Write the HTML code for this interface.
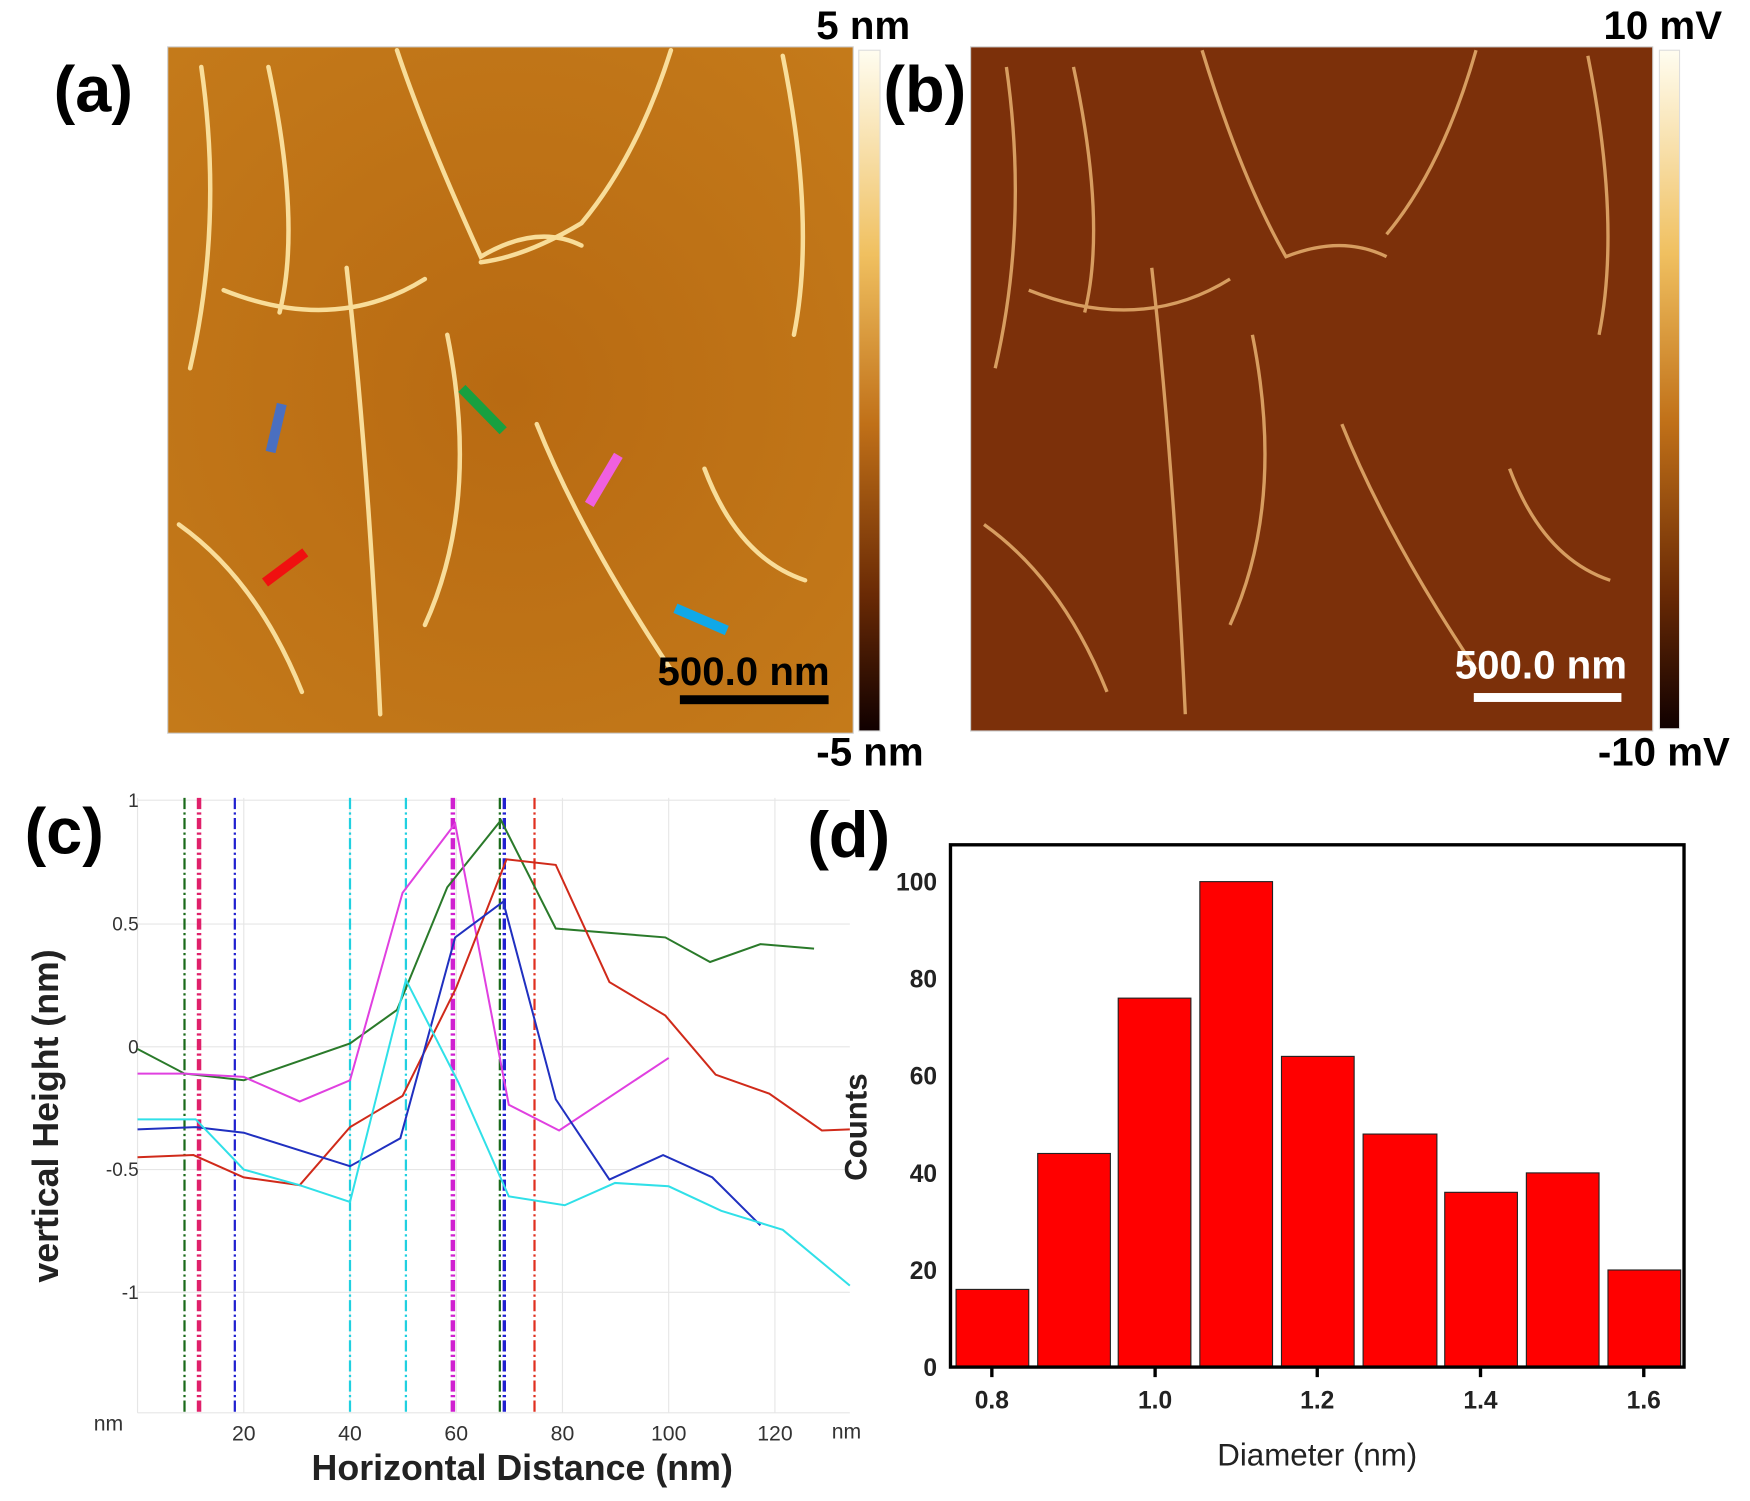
<!DOCTYPE html>
<html><head><meta charset="utf-8"><style>html,body{margin:0;padding:0;background:#fff}svg{display:block}</style></head>
<body>
<svg width="1750" height="1501" viewBox="0 0 1565 1345" preserveAspectRatio="none" xmlns="http://www.w3.org/2000/svg" font-family="Liberation Sans, sans-serif">
<defs>
<linearGradient id="cba" x1="0" y1="0" x2="0" y2="1"><stop offset="0" stop-color="#fffdf0"/><stop offset="0.3" stop-color="#f0c060"/><stop offset="0.55" stop-color="#c07018"/><stop offset="0.8" stop-color="#6a2a05"/><stop offset="1" stop-color="#100000"/></linearGradient>
<radialGradient id="ga" cx="0.5" cy="0.5" r="0.7"><stop offset="0" stop-color="#b86a12"/><stop offset="1" stop-color="#c47a1a"/></radialGradient>
</defs>
<!-- panel a -->
<rect x="150" y="42" width="613" height="615" fill="url(#ga)" stroke="#ccc"/>
<g fill="none" stroke="#ffe9a8" stroke-width="4" stroke-linecap="round" opacity="0.9">
<path d="M355 45 Q380 120 430 230 Q480 200 520 220"/>
<path d="M600 45 Q570 140 520 200 Q470 230 430 235"/>
<path d="M180 60 Q200 200 170 330"/>
<path d="M240 60 Q270 200 250 280"/>
<path d="M310 240 Q330 420 340 640"/>
<path d="M700 50 Q730 200 710 300"/>
<path d="M160 470 Q230 520 270 620"/>
<path d="M480 380 Q520 480 600 600"/>
<path d="M200 260 Q300 300 380 250"/>
<path d="M630 420 Q660 500 720 520"/>
<path d="M400 300 Q430 450 380 560"/>
</g>
<rect x="768" y="45" width="19" height="610" fill="url(#cba)" stroke="#ddd"/>
<g stroke-width="9"><line x1="252" y1="362" x2="242" y2="405" stroke="#4a6fc0"/><line x1="413" y1="348" x2="450" y2="386" stroke="#18a040"/><line x1="553" y1="408" x2="527" y2="452" stroke="#f060e0"/><line x1="273" y1="495" x2="237" y2="522" stroke="#f01010"/><line x1="604" y1="545" x2="650" y2="565" stroke="#10a8e8"/></g>
<rect x="608" y="623" width="133" height="8" fill="#000"/>
<text x="665" y="614" font-size="36" font-weight="bold" text-anchor="middle">500.0 nm</text>
<text x="772" y="35" font-size="36" font-weight="bold" text-anchor="middle">5 nm</text>
<text x="778" y="686" font-size="36" font-weight="bold" text-anchor="middle">-5 nm</text>
<text x="48" y="100" font-size="58" font-weight="bold">(a)</text>
<!-- panel b -->
<rect x="868" y="42" width="610" height="613" fill="#7c300a" stroke="#ccc"/>
<g fill="none" stroke="#e8b070" stroke-width="3" opacity="0.85">
<path d="M1075 45 Q1110 160 1150 230 Q1200 210 1240 230"/>
<path d="M1320 45 Q1290 150 1240 210"/>
<path d="M900 60 Q920 200 890 330"/>
<path d="M960 60 Q990 200 970 280"/>
<path d="M1030 240 Q1050 420 1060 640"/>
<path d="M1420 50 Q1450 200 1430 300"/>
<path d="M880 470 Q950 520 990 620"/>
<path d="M1200 380 Q1240 480 1320 600"/>
<path d="M920 260 Q1020 300 1100 250"/>
<path d="M1350 420 Q1380 500 1440 520"/>
<path d="M1120 300 Q1150 450 1100 560"/>
</g>
<rect x="1484" y="45" width="18" height="608" fill="url(#cba)" stroke="#ddd"/>
<rect x="1318" y="621" width="132" height="8" fill="#fff"/>
<text x="1378" y="608" font-size="36" font-weight="bold" text-anchor="middle" fill="#fff">500.0 nm</text>
<text x="1487" y="35" font-size="36" font-weight="bold" text-anchor="middle">10 mV</text>
<text x="1488" y="686" font-size="36" font-weight="bold" text-anchor="middle">-10 mV</text>
<text x="790" y="100" font-size="58" font-weight="bold">(b)</text>
<!-- panel c -->
<g stroke="#e6e6e6" stroke-width="1">
<line x1="123" y1="717" x2="760" y2="717"/><line x1="123" y1="828" x2="760" y2="828"/><line x1="123" y1="938" x2="760" y2="938"/><line x1="123" y1="1048" x2="760" y2="1048"/><line x1="123" y1="1158" x2="760" y2="1158"/><line x1="123" y1="1266" x2="760" y2="1266"/>
<line x1="123" y1="715" x2="123" y2="1266"/><line x1="218" y1="715" x2="218" y2="1266"/><line x1="313" y1="715" x2="313" y2="1266"/><line x1="408" y1="715" x2="408" y2="1266"/><line x1="503" y1="715" x2="503" y2="1266"/><line x1="598" y1="715" x2="598" y2="1266"/><line x1="693" y1="715" x2="693" y2="1266"/>
</g>
<g font-size="17" fill="#333" text-anchor="end"><text x="124" y="723">1</text><text x="124" y="834">0.5</text><text x="124" y="944">0</text><text x="124" y="1054">-0.5</text><text x="124" y="1164">-1</text></g>
<g font-size="19" fill="#333" text-anchor="middle"><text x="97" y="1282">nm</text><text x="218" y="1291">20</text><text x="313" y="1291">40</text><text x="408" y="1291">60</text><text x="503" y="1291">80</text><text x="598" y="1291">100</text><text x="693" y="1291">120</text><text x="757" y="1289">nm</text></g>
<g stroke-width="2" stroke-dasharray="10,3,2,3" fill="none">
<line x1="165" y1="715" x2="165" y2="1266" stroke="#1a6a1a"/><line x1="447" y1="715" x2="447" y2="1266" stroke="#1a6a1a"/>
<line x1="178" y1="715" x2="178" y2="1266" stroke="#e0206a" stroke-width="4"/><line x1="478" y1="715" x2="478" y2="1266" stroke="#e03020"/>
<line x1="210" y1="715" x2="210" y2="1266" stroke="#2020d0"/><line x1="451" y1="715" x2="451" y2="1266" stroke="#2020d0" stroke-width="3"/>
<line x1="313" y1="715" x2="313" y2="1266" stroke="#20d0e0"/><line x1="363" y1="715" x2="363" y2="1266" stroke="#20d0e0"/>
<line x1="405" y1="715" x2="405" y2="1266" stroke="#d020d0" stroke-width="4"/>
</g>
<g fill="none" stroke-width="1.8">
<polyline stroke="#2a7a2a" points="123,940 165,962 218,968 313,935 355,905 400,795 448,735 497,832 595,840 635,862 680,846 728,850"/>
<polyline stroke="#e040e0" points="123,962 165,962 218,965 268,987 313,968 360,800 407,738 455,990 500,1013 598,948"/>
<polyline stroke="#d02a1a" points="123,1037 173,1035 218,1055 268,1062 313,1010 360,982 408,885 453,770 497,775 545,880 595,910 640,963 688,980 735,1013 760,1012"/>
<polyline stroke="#2030c0" points="123,1012 175,1010 218,1015 313,1045 358,1020 407,840 450,808 497,985 545,1057 593,1035 637,1055 680,1098"/>
<polyline stroke="#30e0e8" points="123,1003 175,1003 218,1048 268,1062 313,1077 363,878 410,970 455,1072 505,1080 550,1060 598,1063 645,1085 700,1102 760,1152"/>
</g>
<text x="467" y="1326" font-size="32" font-weight="bold" text-anchor="middle" fill="#222">Horizontal Distance (nm)</text>
<text transform="translate(52,1000) rotate(-90)" font-size="32" font-weight="bold" text-anchor="middle" fill="#222">vertical Height (nm)</text>
<text x="22" y="765" font-size="58" font-weight="bold">(c)</text>
<!-- panel d -->
<g fill="#ff0000" stroke="#222" stroke-width="1">
<rect x="855" y="1155.4" width="65" height="69.6"/><rect x="928" y="1033.6" width="65" height="191.4"/><rect x="1000" y="894.4" width="65" height="330.6"/><rect x="1073" y="790" width="65" height="435"/><rect x="1146" y="946.6" width="65" height="278.4"/><rect x="1219" y="1016.2" width="66" height="208.8"/><rect x="1292" y="1068.4" width="65" height="156.6"/><rect x="1365" y="1051" width="65" height="174"/><rect x="1438" y="1138" width="65" height="87"/>
</g>
<rect x="850" y="757" width="656" height="468" fill="none" stroke="#000" stroke-width="3"/>
<g stroke="#000" stroke-width="3"><line x1="887" y1="1225" x2="887" y2="1234"/><line x1="1033" y1="1225" x2="1033" y2="1234"/><line x1="1178" y1="1225" x2="1178" y2="1234"/><line x1="1324" y1="1225" x2="1324" y2="1234"/><line x1="1470" y1="1225" x2="1470" y2="1234"/></g>
<g font-size="22" font-weight="bold" fill="#222" text-anchor="end"><text x="838" y="1233">0</text><text x="838" y="1146">20</text><text x="838" y="1059">40</text><text x="838" y="972">60</text><text x="838" y="885">80</text><text x="838" y="798">100</text></g>
<g font-size="22" font-weight="bold" fill="#222" text-anchor="middle"><text x="887" y="1262">0.8</text><text x="1033" y="1262">1.0</text><text x="1178" y="1262">1.2</text><text x="1324" y="1262">1.4</text><text x="1470" y="1262">1.6</text></g>
<text x="1178" y="1313" font-size="28" text-anchor="middle" fill="#222">Diameter (nm)</text>
<text transform="translate(775,1010) rotate(-90)" font-size="28" font-weight="bold" text-anchor="middle" fill="#222">Counts</text>
<text x="722" y="768" font-size="58" font-weight="bold">(d)</text>
</svg>
</body></html>
